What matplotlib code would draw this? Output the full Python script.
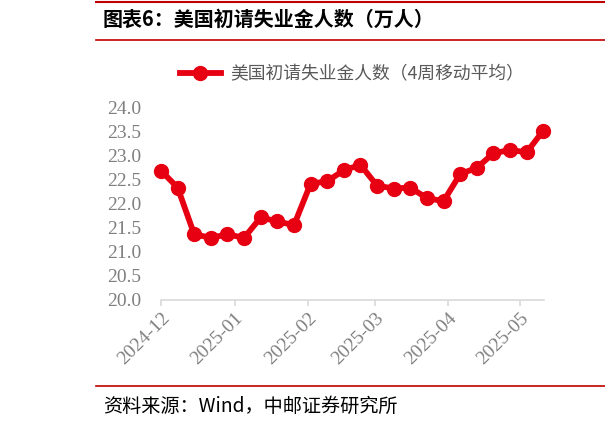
import matplotlib
matplotlib.use("Agg")
import matplotlib.pyplot as plt
import matplotlib.dates as mdates
import numpy as np
import datetime as dt

# data: 4-week moving average of US initial jobless claims (10k persons)
start = dt.date(2024, 12, 7)
weeks = [start + dt.timedelta(days=7 * i) for i in range(24)]
claims = [22.68, 22.33, 21.36, 21.29, 21.36, 21.29, 21.71, 21.63, 21.55,
          22.41, 22.46, 22.69, 22.80, 22.37, 22.31, 22.33, 22.11, 22.05,
          22.61, 22.74, 23.04, 23.11, 23.06, 23.51]
tick_dates = [dt.date(2024, 12, 7), dt.date(2025, 1, 7), dt.date(2025, 2, 7),
              dt.date(2025, 3, 7), dt.date(2025, 4, 7), dt.date(2025, 5, 7)]
yticks = np.arange(20.0, 24.01, 0.5)

title = "图表6：美国初请失业金人数（万人）"
legend_label = "美国初请失业金人数（4周移动平均）"
source = "资料来源：Wind，中邮证券研究所"

red = "#e60012"
dark_red = "#c00000"
gray = "#7f7f7f"
cjk = ["Noto Sans CJK SC", "DejaVu Sans"]

fig = plt.figure(figsize=(6.05, 4.26), dpi=100)
W, H = 605, 426

ax = fig.add_axes([161 / W, 1 - 300 / H, 383 / W, 193 / H])
ax.plot(weeks, claims, color=red, lw=4.2, marker="o", ms=10,
        label=legend_label, clip_on=False, zorder=3)

ax.set_ylim(20, 24)
ax.set_yticks(yticks)
ax.set_yticklabels([f"{v:.1f}" for v in yticks])
ax.set_xlim(mdates.date2num(start), mdates.date2num(weeks[-1]) + 0.3)
ax.set_xticks(tick_dates)
ax.xaxis.set_major_formatter(mdates.DateFormatter("%Y-%m"))

for s in ["top", "right", "left"]:
    ax.spines[s].set_visible(False)
ax.spines["bottom"].set_color("#d9d9d9")
ax.spines["bottom"].set_linewidth(1.2)
ax.tick_params(axis="y", length=0, pad=14)
ax.tick_params(axis="x", length=4, color="#d9d9d9", width=1.2, pad=3)
for lab in ax.get_yticklabels() + ax.get_xticklabels():
    lab.set_fontfamily("Liberation Serif")
    lab.set_fontsize(14)
    lab.set_color(gray)
for lab in ax.get_xticklabels():
    lab.set_rotation(45)
    lab.set_ha("right")
    lab.set_va("top")
    lab.set_rotation_mode("anchor")

leg = fig.legend(loc="center", bbox_to_anchor=(352 / W, 1 - 74 / H),
                 frameon=False, handlelength=2.3, handletextpad=0.55,
                 prop={"family": cjk, "size": 12.8})
for t in leg.get_texts():
    t.set_color("#595959")

# header / footer decoration
fig.add_artist(plt.Line2D([96 / W, 1], [1 - 1.5 / H] * 2, color=dark_red, lw=1.5))
fig.add_artist(plt.Line2D([96 / W, 1], [1 - 40 / H] * 2, color=dark_red, lw=1.2))
fig.add_artist(plt.Line2D([96 / W, 1], [1 - 386 / H] * 2, color=dark_red, lw=1.2))
fig.text(103 / W, 1 - 19 / H, title, fontsize=14.4, fontweight="bold",
         family=cjk, va="center", ha="left", color="black")
fig.text(103 / W, 1 - 406 / H, source, fontsize=13.8,
         family=cjk, va="center", ha="left", color="black")

fig.savefig("out.png", dpi=100)
